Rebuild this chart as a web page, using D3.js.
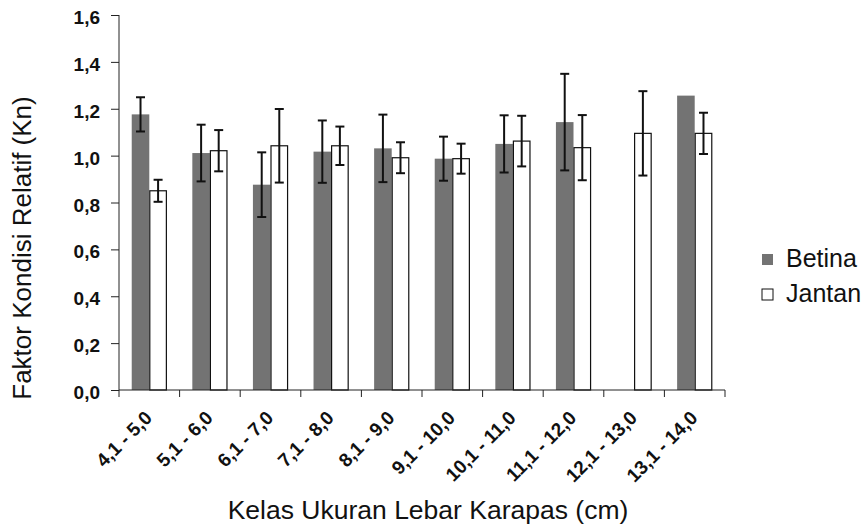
<!DOCTYPE html>
<html>
<head>
<meta charset="utf-8">
<script src="https://cdn.jsdelivr.net/npm/d3@7"></script>
<style>
  html, body { margin: 0; padding: 0; background: #fff; }
  svg { display: block; font-family: "Liberation Sans", Arial, sans-serif; }
</style>
</head>
<body>
<svg id="chart" width="867" height="528"></svg>
<script>
// ---- data ----
const categories = ["4,1 - 5,0", "5,1 - 6,0", "6,1 - 7,0", "7,1 - 8,0", "8,1 - 9,0",
                    "9,1 - 10,0", "10,1 - 11,0", "11,1 - 12,0", "12,1 - 13,0", "13,1 - 14,0"];
const seriesNames = ["Betina", "Jantan"];
const betinaValues = [1.176, 1.011, 0.876, 1.017, 1.031, 0.987, 1.050, 1.143, null, 1.256];
const betinaErrors = [0.073, 0.121, 0.138, 0.133, 0.144, 0.094, 0.122, 0.206, null, null];
const jantanValues = [0.850, 1.021, 1.042, 1.042, 0.991, 0.987, 1.062, 1.034, 1.095, 1.095];
const jantanErrors = [0.047, 0.088, 0.157, 0.082, 0.066, 0.064, 0.108, 0.139, 0.180, 0.088];
const yTicks = [0, 0.2, 0.4, 0.6, 0.8, 1.0, 1.2, 1.4, 1.6];
const yLabels = ["0,0", "0,2", "0,4", "0,6", "0,8", "1,0", "1,2", "1,4", "1,6"];
const xTitle = "Kelas Ukuran Lebar Karapas (cm)";
const yTitle = "Faktor Kondisi Relatif (Kn)";

// ---- layout ----
const pLeft = 119, pRight = 725, pTop = 15, pBottom = 390;
const FONT = "'Liberation Sans', Arial, sans-serif";
const svg = d3.select("#chart");

const x0 = d3.scaleBand().domain(categories).range([pLeft, pRight])
  .paddingInner(0.42).paddingOuter(0.21);
const x1 = d3.scaleBand().domain(seriesNames).range([0, x0.bandwidth()]);
const y = d3.scaleLinear().domain([0, 1.6]).range([pBottom, pTop]);

const colors = { Betina: "#737373", Jantan: "#ffffff" };

const rows = categories.map((c, i) => ({
  cat: c,
  items: [
    { s: "Betina", v: betinaValues[i], e: betinaErrors[i] },
    { s: "Jantan", v: jantanValues[i], e: jantanErrors[i] }
  ]
}));

// bars
const g = svg.append("g");
const groups = g.selectAll("g.grp").data(rows).join("g")
  .attr("transform", d => `translate(${x0(d.cat)},0)`);

groups.selectAll("rect").data(d => d.items.filter(it => it.v != null)).join("rect")
  .attr("x", d => x1(d.s) + (d.s === "Jantan" ? 0.5 : 0))
  .attr("y", d => y(d.v))
  .attr("width", d => x1.bandwidth() - (d.s === "Jantan" ? 1 : 0))
  .attr("height", d => y(0) - y(d.v))
  .attr("fill", d => colors[d.s])
  .attr("stroke", d => d.s === "Jantan" ? "#111" : "none")
  .attr("stroke-width", 1.2);

// error bars
const eb = groups.selectAll("g.err").data(d => d.items.filter(it => it.v != null && it.e != null)).join("g")
  .attr("stroke", "#111").attr("stroke-width", 2);
eb.append("line")
  .attr("x1", d => x1(d.s) + x1.bandwidth() / 2).attr("x2", d => x1(d.s) + x1.bandwidth() / 2)
  .attr("y1", d => y(d.v + d.e)).attr("y2", d => y(d.v - d.e));
eb.append("line")
  .attr("x1", d => x1(d.s) + x1.bandwidth() / 2 - 4.5).attr("x2", d => x1(d.s) + x1.bandwidth() / 2 + 4.5)
  .attr("y1", d => y(d.v + d.e)).attr("y2", d => y(d.v + d.e));
eb.append("line")
  .attr("x1", d => x1(d.s) + x1.bandwidth() / 2 - 4.5).attr("x2", d => x1(d.s) + x1.bandwidth() / 2 + 4.5)
  .attr("y1", d => y(d.v - d.e)).attr("y2", d => y(d.v - d.e));

// y axis
const yAxis = d3.axisLeft(y).tickValues(yTicks).tickSize(8)
  .tickFormat((d, i) => yLabels[i]);
const ya = svg.append("g").attr("transform", `translate(${pLeft},0)`).call(yAxis)
  .attr("font-family", FONT);
ya.select(".domain").attr("stroke", "#222").attr("d", `M0,${pTop}V${pBottom}`);
ya.selectAll(".tick line").attr("stroke", "#222");
ya.selectAll(".tick text")
  .attr("x", -19).attr("dy", "0.32em").attr("y", 2.5)
  .attr("font-size", 19).attr("font-weight", "bold").attr("fill", "#111");

// x axis
const xa = svg.append("g").attr("transform", `translate(0,${pBottom})`).attr("font-family", FONT);
xa.append("line").attr("x1", pLeft).attr("x2", pRight).attr("y1", 0).attr("y2", 0)
  .attr("stroke", "#222");
const boundaries = categories.map(c => x0(c) - x0.step() * 0.21).concat([pRight]);
xa.selectAll("line.tk").data(boundaries).join("line").attr("class", "tk")
  .attr("x1", d => d).attr("x2", d => d).attr("y1", 0).attr("y2", 7)
  .attr("stroke", "#222");
xa.selectAll("text.lbl").data(categories).join("text").attr("class", "lbl")
  .attr("transform", d => `translate(${x0(d) + x0.bandwidth() / 2 + 4},29) rotate(-45)`)
  .attr("text-anchor", "end")
  .attr("font-size", 19).attr("font-weight", "bold").attr("fill", "#111")
  .text(d => d);

// titles
svg.append("text")
  .attr("x", 428).attr("y", 519)
  .attr("text-anchor", "middle").attr("font-size", 26.5).attr("fill", "#111")
  .text(xTitle);
svg.append("text")
  .attr("transform", `translate(31,248) rotate(-90)`)
  .attr("text-anchor", "middle").attr("font-size", 26).attr("fill", "#111")
  .text(yTitle);

// legend
const legend = svg.append("g");
const legY = [254, 289];
seriesNames.forEach((s, i) => {
  legend.append("rect")
    .attr("x", 762).attr("y", legY[i]).attr("width", 11).attr("height", 11)
    .attr("fill", colors[s])
    .attr("stroke", s === "Jantan" ? "#111" : "none").attr("stroke-width", 1);
  legend.append("text")
    .attr("x", 786).attr("y", legY[i] + 12.5)
    .attr("font-size", 25).attr("fill", "#111")
    .text(s);
});
</script>
</body>
</html>
